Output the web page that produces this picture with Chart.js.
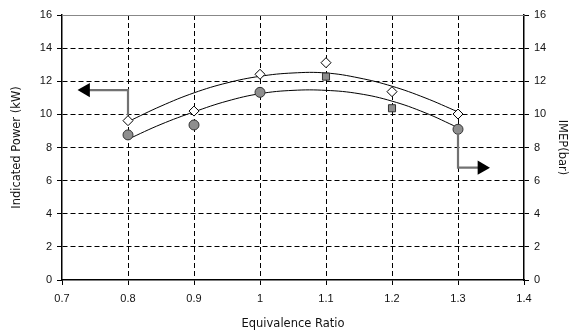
<!DOCTYPE html>
<html><head><meta charset="utf-8">
<script src="https://cdn.jsdelivr.net/npm/chart.js@4.4.1/dist/chart.umd.min.js"></script>
<style>html,body{margin:0;padding:0;background:#fff}#wrap{width:578px;height:336px}</style>
</head><body><div id="wrap"><canvas id="c" width="578" height="336"></canvas></div>
<script>
// ---- data ----
const ratios = [0.8, 0.9, 1.0, 1.1, 1.2, 1.3];
const imep = [9.62, 10.2, 12.42, 13.12, 11.37, 10.02];
const power = [8.76, 9.36, 11.33, 12.28, 10.37, 9.1];
const powerMarkers = ['circle', 'circle', 'circle', 'rect', 'rect', 'circle'];
const trendRatios = [0.8, 0.85, 0.9, 0.95, 1.0, 1.05, 1.1, 1.15, 1.2, 1.25, 1.3];
const upperTrend = [9.56, 10.5, 11.3, 11.9, 12.3, 12.5, 12.5, 12.2, 11.7, 11.0, 10.15];
const lowerTrend = [8.5, 9.4, 10.15, 10.8, 11.25, 11.45, 11.45, 11.25, 10.8, 10.1, 9.2];
const leftArrowX = [0.8, 0.8, 0.736];
const leftArrowY = [9.95, 11.47, 11.47];
const rightArrowX = [1.3, 1.3, 1.336];
const rightArrowY = [8.75, 6.78, 6.78];
const xTicks = [0.7, 0.8, 0.9, 1.0, 1.1, 1.2, 1.3, 1.4];
const yTicks = [0, 2, 4, 6, 8, 10, 12, 14, 16];
const xTitle = 'Equivalence Ratio';
const yTitle = 'Indicated Power (kW)';
const y2Title = 'IMEP(bar)';

const pts = (xs, ys) => xs.map((x, i) => ({x, y: ys[i]}));
const FONT = {family: 'Liberation Sans, Arial, sans-serif', size: 11};
const TFONT = {family: 'DejaVu Sans, sans-serif', size: 11.5};
const DASH = [5, 3];

const topLine = {
  id: 'topLine',
  afterDraw(chart) {
    const {ctx, chartArea: a} = chart;
    ctx.save();
    ctx.strokeStyle = '#888';
    ctx.lineWidth = 1;
    ctx.beginPath();
    ctx.moveTo(a.left, a.top + 0.5);
    ctx.lineTo(a.right, a.top + 0.5);
    ctx.stroke();
    ctx.restore();
  }
};

const edgeTransparent = (ctx, min, max) => {
  const v = ctx.tick ? ctx.tick.value : null;
  if (v === null) return '#000';
  return (Math.abs(v - min) < 1e-6 || Math.abs(v - max) < 1e-6) ? 'rgba(0,0,0,0)' : '#000';
};

new Chart(document.getElementById('c'), {
  type: 'line',
  data: {
    datasets: [
      {label: 'arrowL', data: pts(leftArrowX, leftArrowY), borderColor: '#727272', borderWidth: 2.2, tension: 0,
       pointRadius: [0, 0, 6], pointStyle: 'triangle', pointRotation: -90, pointBackgroundColor: '#000', pointBorderColor: '#000', yAxisID: 'y', order: 5},
      {label: 'arrowR', data: pts(rightArrowX, rightArrowY), borderColor: '#727272', borderWidth: 2.2, tension: 0,
       pointRadius: [0, 0, 6], pointStyle: 'triangle', pointRotation: 90, pointBackgroundColor: '#000', pointBorderColor: '#000', yAxisID: 'y2', order: 5},
      {label: 'upper', data: pts(trendRatios, upperTrend), borderColor: '#000', borderWidth: 1, tension: 0.4, pointRadius: 0, yAxisID: 'y2', order: 4},
      {label: 'lower', data: pts(trendRatios, lowerTrend), borderColor: '#000', borderWidth: 1, tension: 0.4, pointRadius: 0, yAxisID: 'y', order: 4},
      {label: 'IMEP', data: pts(ratios, imep), showLine: false, pointStyle: 'rectRot', pointRadius: 5,
       pointBackgroundColor: '#fff', pointBorderColor: '#000', pointBorderWidth: 1, yAxisID: 'y2', order: 1},
      {label: 'Power', data: pts(ratios, power), showLine: false, pointStyle: powerMarkers, pointRadius: 5,
       pointBackgroundColor: '#8e8e8e', pointBorderColor: '#333', pointBorderWidth: 1, yAxisID: 'y', order: 2}
    ]
  },
  options: {
    responsive: false,
    animation: false,
    devicePixelRatio: 1,
    layout: {padding: {left: 0, right: 0, top: 15, bottom: 0}},
    plugins: {legend: {display: false}, tooltip: {enabled: false}},
    scales: {
      x: {
        type: 'linear', min: 0.7, max: 1.4,
        afterBuildTicks: s => { s.ticks = xTicks.map(v => ({value: v})); },
        afterFit: s => { s.height = 56; },
        ticks: {font: FONT, color: '#111', padding: 7, maxRotation: 0,
                callback: v => String(Math.round(v * 10) / 10)},
        grid: {color: c => edgeTransparent(c, 0.7, 1.4), lineWidth: 1, tickLength: 5, tickColor: '#000', tickWidth: 1},
        border: {color: '#000', width: 1.5, dash: DASH},
        title: {display: true, text: xTitle, font: TFONT, color: '#111', padding: {top: 0, bottom: 5}}
      },
      y: {
        type: 'linear', position: 'left', min: 0, max: 16,
        afterBuildTicks: s => { s.ticks = yTicks.map(v => ({value: v})); },
        afterFit: s => { s.width = 62; },
        ticks: {font: FONT, color: '#111', padding: 5},
        grid: {color: c => edgeTransparent(c, 0, 16), lineWidth: 1, tickLength: 5, tickColor: '#000', tickWidth: 1},
        border: {color: '#000', width: 1.5, dash: DASH},
        title: {display: true, text: yTitle, font: TFONT, color: '#111', padding: {top: 10, bottom: 0}}
      },
      y2: {
        type: 'linear', position: 'right', min: 0, max: 16,
        afterBuildTicks: s => { s.ticks = yTicks.map(v => ({value: v})); },
        afterFit: s => { s.width = 54; },
        ticks: {font: FONT, color: '#111', padding: 5},
        grid: {color: 'rgba(0,0,0,0)', lineWidth: 1, tickLength: 5, tickColor: '#000', tickWidth: 1},
        border: {color: '#000', width: 1.5},
        title: {display: true, text: y2Title, font: TFONT, color: '#111', padding: {top: 9, bottom: 0}}
      }
    }
  },
  plugins: [topLine]
});
</script>
</body></html>
